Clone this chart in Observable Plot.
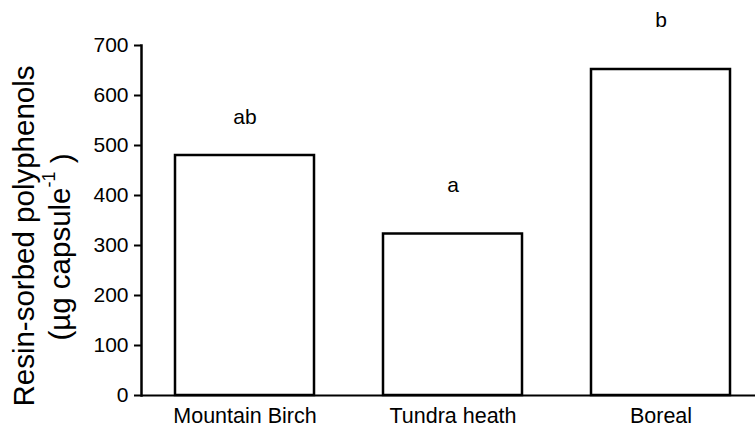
<!DOCTYPE html>
<html>
<head>
<meta charset="utf-8">
<script src="https://cdn.jsdelivr.net/npm/d3@7"></script>
<script src="https://cdn.jsdelivr.net/npm/@observablehq/plot@0.6"></script>
<style>
  html, body { margin: 0; padding: 0; background: #fff; }
  #chart svg { display: block; }
</style>
</head>
<body>
<div id="chart"></div>
<script>
const categories = ["Mountain Birch", "Tundra heath", "Boreal"];
const values = [480, 323, 652];
const letters = ["ab", "a", "b"];
const letterY = [556, 420, 750];
const yTicks = [0, 100, 200, 300, 400, 500, 600, 700];

const data = categories.map((c, i) => ({cat: c, value: values[i], letter: letters[i], ly: letterY[i]}));
const font = "'Liberation Sans', Arial, Helvetica, sans-serif";

const svg = Plot.plot({
  width: 755,
  height: 439,
  marginLeft: 141,
  marginRight: 0,
  marginTop: 45,
  marginBottom: 44,
  style: {fontFamily: font, background: "white", color: "black", overflow: "visible"},
  x: {domain: categories, paddingInner: 0.33, paddingOuter: 0.14, align: 0.586, label: null},
  y: {domain: [0, 700], label: null},
  marks: [
    Plot.barY(data, {x: "cat", y: "value", fill: "white", stroke: "black", strokeWidth: 2.5}),
    Plot.ruleY([0], {stroke: "black", strokeWidth: 2}),
    Plot.frame({anchor: "left", stroke: "black", strokeWidth: 2.5}),
    Plot.axisY({ticks: yTicks, tickSize: 7, tickPadding: 6, fontSize: 21, strokeWidth: 2, label: null, tickFormat: d3.format("d")}),
    Plot.axisX({tickSize: 0, tickPadding: 12, fontSize: 21.5, label: null}),
    Plot.text(data, {x: "cat", y: "ly", text: "letter", fontSize: 21, fill: "black"})
  ]
});

const s = d3.select(svg);
s.append("text")
  .attr("transform", "translate(23,236) rotate(-90)")
  .attr("text-anchor", "middle")
  .attr("dominant-baseline", "central")
  .attr("font-size", 29.5)
  .attr("font-family", font)
  .attr("fill", "black")
  .text("Resin-sorbed polyphenols");
const t2 = s.append("text")
  .attr("transform", "translate(59,247) rotate(-90)")
  .attr("text-anchor", "middle")
  .attr("dominant-baseline", "central")
  .attr("font-size", 29.5)
  .attr("font-family", font)
  .attr("fill", "black");
t2.append("tspan").text("(µg capsule");
t2.append("tspan").attr("font-size", 18).attr("dy", "-0.55em").text("-1");
t2.append("tspan").attr("dy", "0.4em").text(" )");

document.getElementById("chart").appendChild(svg);
</script>
</body>
</html>
